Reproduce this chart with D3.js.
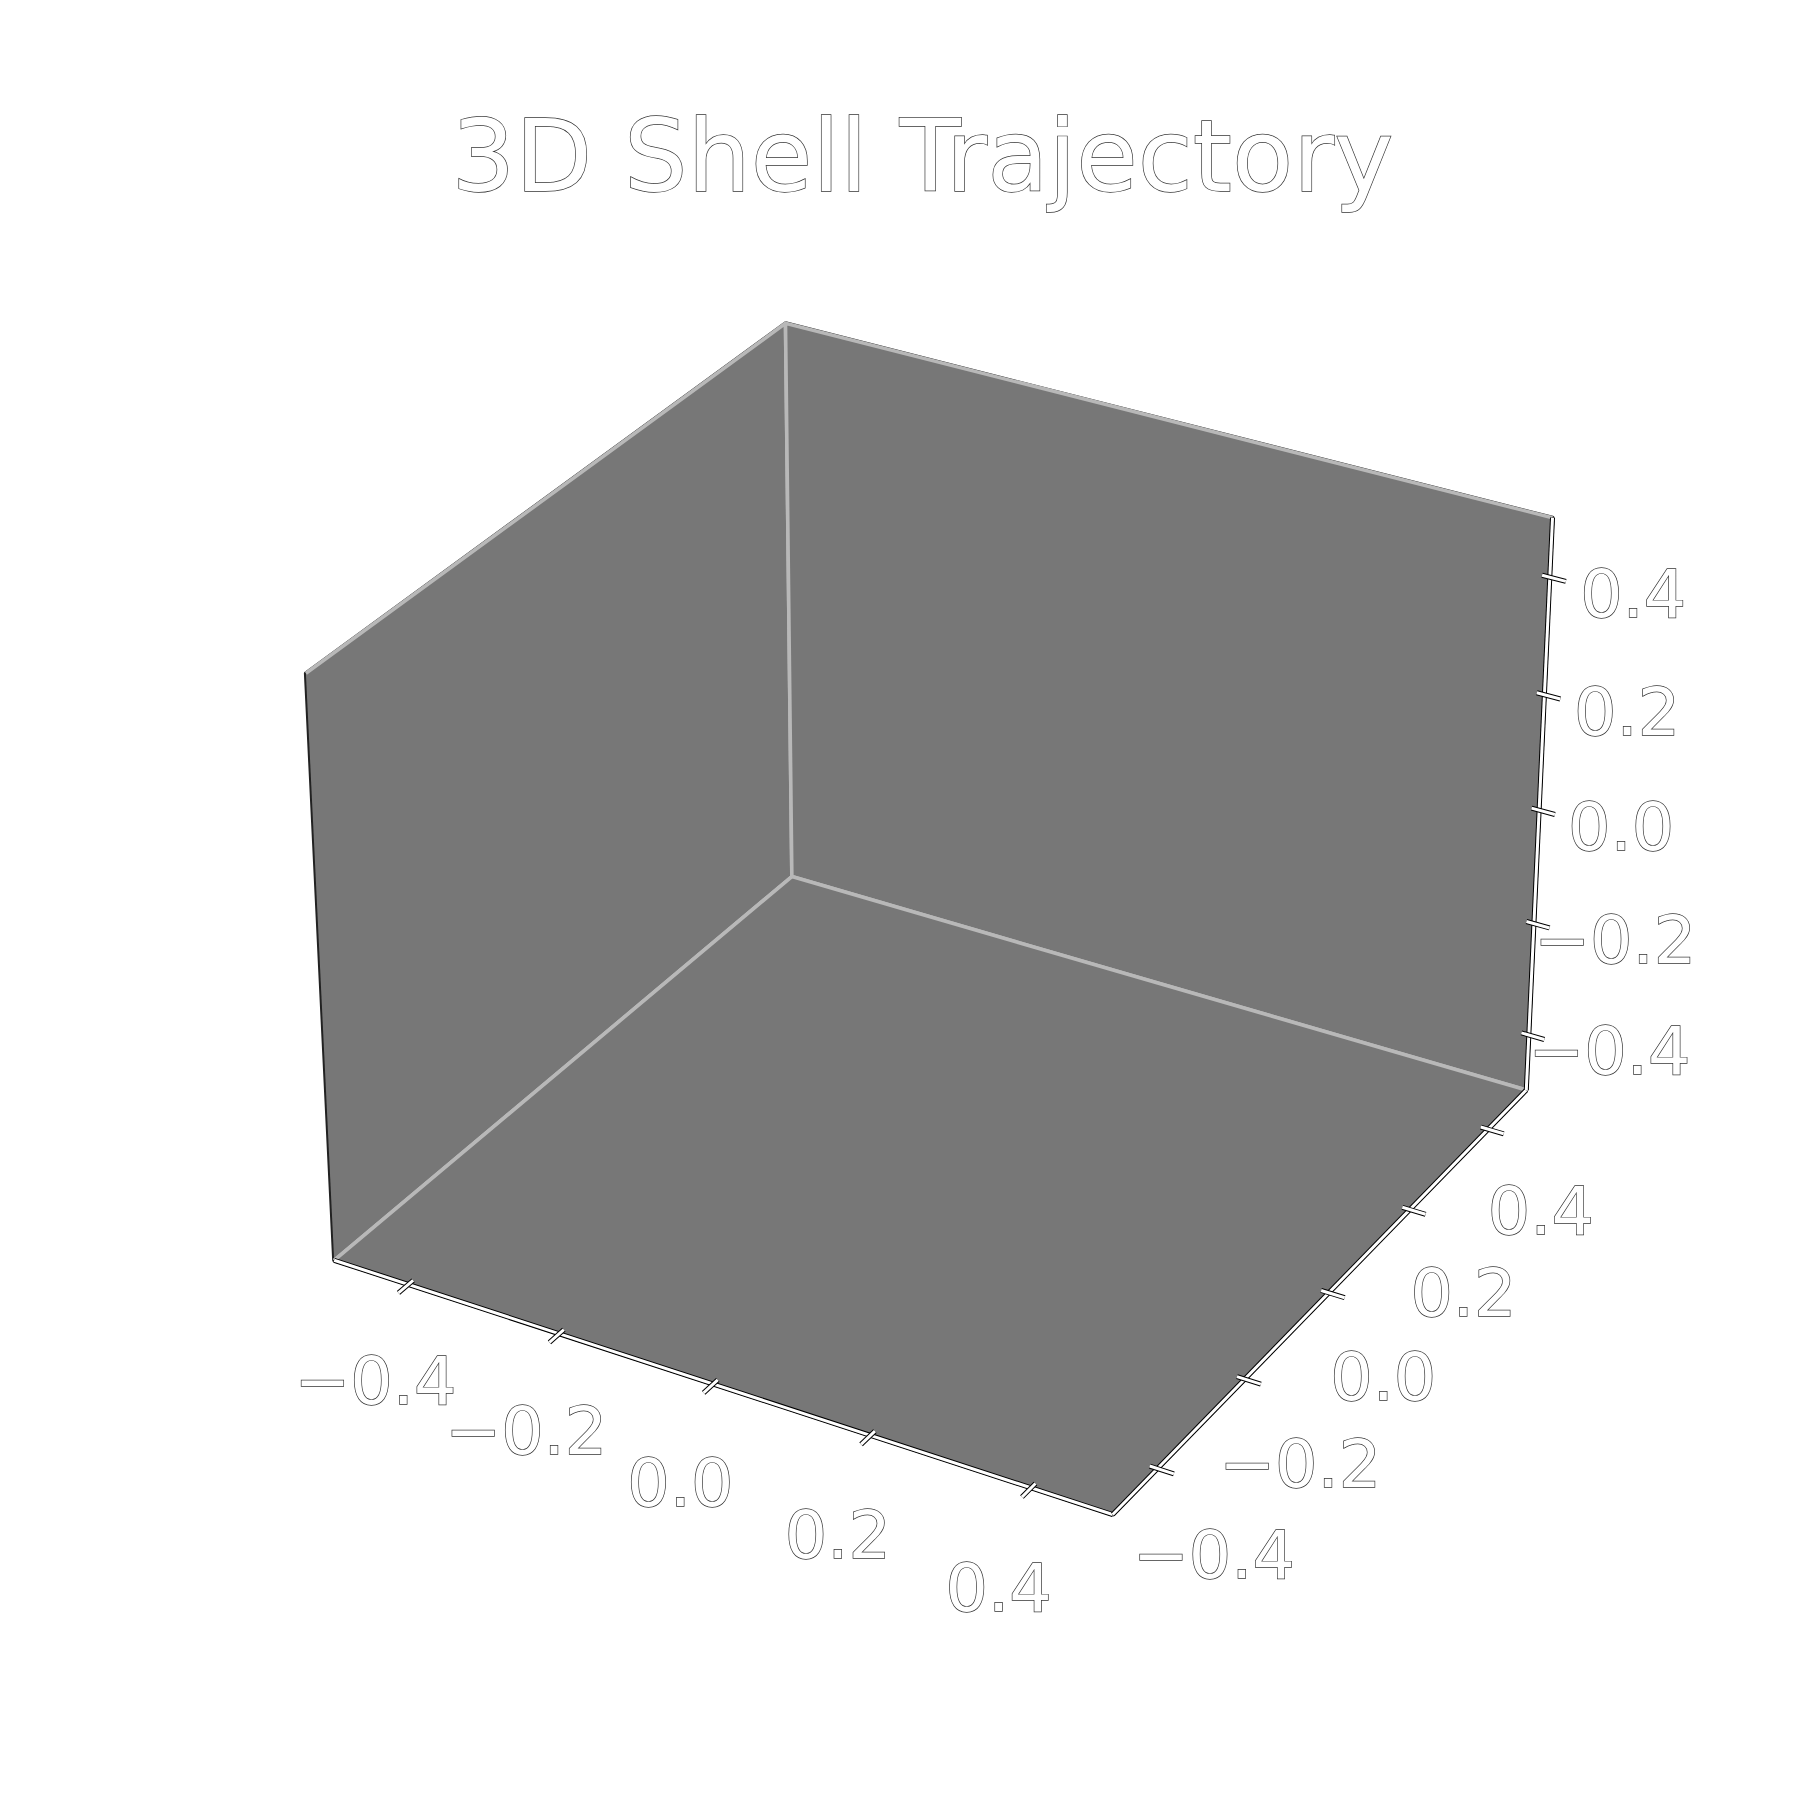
<!DOCTYPE html>
<html>
<head>
<meta charset="utf-8">
<script src="https://cdn.jsdelivr.net/npm/d3@7"></script>
<style>
  body { margin: 0; background: #ffffff; }
  svg { display: block; }
</style>
</head>
<body>
<div id="chart"></div>
<script>
// ------- Data -------
const chartTitle = "3D Shell Trajectory";
const xLimits = [-0.48, 0.48];
const yLimits = [-0.48, 0.48];
const zLimits = [-0.48, 0.48];
const xTicks = [-0.4, -0.2, 0.0, 0.2, 0.4];
const yTicks = [-0.4, -0.2, 0.0, 0.2, 0.4];
const zTicks = [-0.4, -0.2, 0.0, 0.2, 0.4];

// ------- View settings (matplotlib-like 3D camera) -------
const width = 1800;
const height = 1800;
const elev = 30;
const azim = -60;
const dist = 10;
const boxAspect = [4, 4, 3];
const axBox = { left: 229.5, top: 216, size: 1386 };
const viewLim = [-0.095, 0.09];

const paneColor = "#777777";
const paneEdge = "#b8b8b8";
const labelOffset = 0.07; // data units pushed away from the box centre

const norm = Math.hypot(...boxAspect);
const box = boxAspect.map((a) => (a * 1.8294640721620434) / norm);
const R = box.map((b) => b / 2);

const er = (elev * Math.PI) / 180;
const ar = (azim * Math.PI) / 180;
const w = [Math.cos(er) * Math.cos(ar), Math.cos(er) * Math.sin(ar), Math.sin(er)];
let u = [-w[1], w[0], 0];
const uLen = Math.hypot(...u);
u = u.map((c) => c / uLen);
const v = [
  w[1] * u[2] - w[2] * u[1],
  w[2] * u[0] - w[0] * u[2],
  w[0] * u[1] - w[1] * u[0],
];
const dot = (a, b) => a[0] * b[0] + a[1] * b[1] + a[2] * b[2];

// data -> normalised world box
const xW = d3.scaleLinear().domain(xLimits).range([0, box[0]]);
const yW = d3.scaleLinear().domain(yLimits).range([0, box[1]]);
const zW = d3.scaleLinear().domain(zLimits).range([0, box[2]]);

// projected view -> pixels
const sx = d3.scaleLinear().domain(viewLim).range([axBox.left, axBox.left + axBox.size]);
const sy = d3.scaleLinear().domain(viewLim).range([axBox.top + axBox.size, axBox.top]);

function project(p) {
  const d = [xW(p[0]) - R[0], yW(p[1]) - R[1], zW(p[2]) - R[2]];
  const depth = dist - dot(w, d);
  return [sx(dot(u, d) / depth), sy(dot(v, d) / depth)];
}

// panes sit a little outside the limits (range / 48 each side)
const pad = (lim) => [lim[0] - (lim[1] - lim[0]) / 48, lim[1] + (lim[1] - lim[0]) / 48];
const [x0, x1] = pad(xLimits);
const [y0, y1] = pad(yLimits);
const [z0, z1] = pad(zLimits);
const delta = (lim) => (lim[1] - lim[0]) / 12;

const line = d3.line();
const path3 = (pts, closed) => line(pts.map(project)) + (closed ? "Z" : "");

// ------- SVG setup -------
const svg = d3
  .select("#chart")
  .append("svg")
  .attr("width", width)
  .attr("height", height)
  .attr("viewBox", [0, 0, width, height]);

svg.append("rect").attr("width", width).attr("height", height).attr("fill", "#ffffff");

// dark rim around the pane block
svg
  .append("path")
  .attr(
    "d",
    path3(
      [
        [x0, y0, z1],
        [x0, y1, z1],
        [x1, y1, z1],
        [x1, y1, z0],
        [x1, y0, z0],
        [x0, y0, z0],
      ],
      true
    )
  )
  .attr("fill", paneColor)
  .attr("stroke", "#222222")
  .attr("stroke-width", 4)
  .attr("stroke-linejoin", "round");

// panes (open outlines, the way matplotlib strokes them)
const panes = [
  [[x0, y0, z0], [x0, y1, z0], [x0, y1, z1], [x0, y0, z1]],
  [[x1, y1, z1], [x0, y1, z1], [x0, y1, z0], [x1, y1, z0]],
  [[x1, y0, z0], [x1, y1, z0], [x0, y1, z0], [x0, y0, z0]],
];

svg
  .selectAll("path.pane")
  .data(panes)
  .join("path")
  .attr("class", "pane")
  .attr("d", (d) => path3(d, false))
  .attr("fill", paneColor)
  .attr("stroke", paneEdge)
  .attr("stroke-width", 3.6)
  .attr("stroke-linejoin", "round");

// ------- Axes -------
function outlinedLine(g, a, b) {
  const pa = project(a);
  const pb = project(b);
  g.append("line")
    .attr("x1", pa[0]).attr("y1", pa[1]).attr("x2", pb[0]).attr("y2", pb[1])
    .attr("stroke", "#000000").attr("stroke-width", 5);
  g.append("line")
    .attr("x1", pa[0]).attr("y1", pa[1]).attr("x2", pb[0]).attr("y2", pb[1])
    .attr("stroke", "#ffffff").attr("stroke-width", 3);
}

const fmt = d3.format(".1f");
const tickFont = 66.7;

function outlinedText(sel) {
  return sel
    .attr("font-family", "DejaVu Sans")
    .attr("fill", "#ffffff")
    .attr("stroke", "#333333")
    .attr("stroke-width", 1.4)
    .attr("paint-order", "stroke");
}

function drawAxis(spec) {
  const g = svg.append("g");
  outlinedLine(g, spec.start, spec.end);

  spec.ticks.forEach((t) => {
    const base = spec.at(t);
    const inner = base.slice();
    const outer = base.slice();
    inner[spec.tickDir] += spec.tickSign * 0.12 * spec.tickDelta;
    outer[spec.tickDir] -= spec.tickSign * 0.25 * spec.tickDelta;
    outlinedLine(g, inner, outer);

    const lp = base.slice();
    spec.labelDirs.forEach(([i, s]) => (lp[i] += s * labelOffset));
    const [lx, ly] = project(lp);
    g.append("text")
      .attr("x", lx)
      .attr("y", ly + 0.76 * tickFont)
      .attr("text-anchor", "middle")
      .attr("font-size", tickFont)
      .call(outlinedText)
      .text(fmt(t));
  });
}

drawAxis({
  start: [x0, y0, z0],
  end: [x1, y0, z0],
  ticks: xTicks,
  at: (t) => [t, y0, z0],
  tickDir: 1,
  tickSign: 1,
  tickDelta: delta(yLimits),
  labelDirs: [[1, -1], [2, -1]],
});

drawAxis({
  start: [x1, y0, z0],
  end: [x1, y1, z0],
  ticks: yTicks,
  at: (t) => [x1, t, z0],
  tickDir: 0,
  tickSign: -1,
  tickDelta: delta(xLimits),
  labelDirs: [[0, 1], [2, -1]],
});

drawAxis({
  start: [x1, y1, z0],
  end: [x1, y1, z1],
  ticks: zTicks,
  at: (t) => [x1, y1, t],
  tickDir: 0,
  tickSign: -1,
  tickDelta: delta(xLimits),
  labelDirs: [[0, 1], [1, 1]],
});

// ------- Title -------
svg
  .append("text")
  .attr("x", axBox.left + axBox.size / 2)
  .attr("y", axBox.top - 25)
  .attr("text-anchor", "middle")
  .attr("font-size", 100)
  .call(outlinedText)
  .text(chartTitle);
</script>
</body>
</html>
